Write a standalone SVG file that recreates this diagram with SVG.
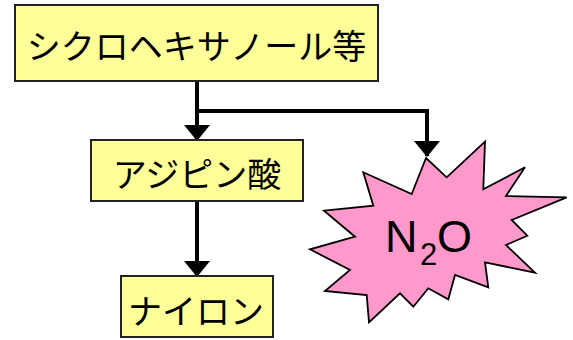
<svg xmlns="http://www.w3.org/2000/svg" width="573" height="340" viewBox="0 0 573 340">
  <defs>
    <marker id="arrow" viewBox="0 0 16 26" refX="15" refY="13" markerWidth="16" markerHeight="26" markerUnits="userSpaceOnUse" orient="auto">
      <path d="M0,0 L16,13 L0,26 z" fill="#000"/>
    </marker>
    <style>
      .box { fill: #FFFF99; stroke: #222; stroke-width: 2; }
      .label { font-family: "Noto Sans CJK JP", "Liberation Sans", sans-serif; font-size: 34px; fill: #000; text-anchor: middle; }
      .conn { fill: none; stroke: #000; stroke-width: 4; }
      .star { fill: #FF99CC; stroke: #000; stroke-width: 1.8; stroke-linejoin: miter; }
      .chem { font-family: "Liberation Sans", Arial, sans-serif; fill: #000; }
    </style>
  </defs>
  <rect width="573" height="340" fill="#fff"/>

  <g id="connectors">
    <path class="conn" d="M197,81 V140" marker-end="url(#arrow)"/>
    <path class="conn" d="M197,111 H427 V156" marker-end="url(#arrow)"/>
    <path class="conn" d="M197,201 V276" marker-end="url(#arrow)"/>
  </g>

  <g id="node-cyclohexanol">
    <rect class="box" x="15" y="5" width="363" height="76"/>
    <text class="label" x="196.5" y="59">シクロヘキサノール等</text>
  </g>

  <g id="node-adipic">
    <rect class="box" x="91" y="140" width="212" height="61"/>
    <text class="label" x="197" y="187">アジピン酸</text>
  </g>

  <g id="node-nylon">
    <rect class="box" x="121" y="276" width="152" height="61"/>
    <text class="label" x="196" y="324">ナイロン</text>
  </g>

  <g id="node-n2o">
    <polygon class="star" points="426,158 446.7,177.3 485,141.7 483.3,189.3 525,167.3 506,196 566.7,197.3 511.7,220 527.3,235.7 506,245 535,272.7 485,262.3 488.3,287.3 455,275 448.3,299.3 428.3,288.3 413.3,306.7 400,293.3 369,322.3 366.7,295 325,291 350,270 310,249.3 355,236.7 324,210.7 373.3,205.7 363.3,172.3 411.7,194"/>
    <text class="chem"><tspan x="385" y="252" font-size="45">N</tspan><tspan x="420" y="265" font-size="31">2</tspan><tspan x="437" y="252" font-size="45">O</tspan></text>
  </g>
</svg>
